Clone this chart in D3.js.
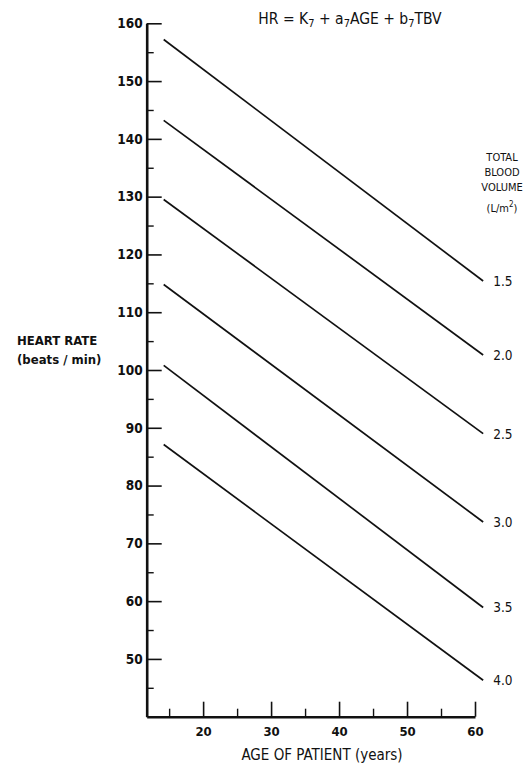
<!DOCTYPE html>
<html>
<head>
<meta charset="utf-8">
<script src="https://cdn.jsdelivr.net/npm/d3@7"></script>
<style>
  html, body { margin: 0; padding: 0; background: #fff; }
  svg { display: block; }
  text { font-family: "Liberation Sans Narrow", "DejaVu Sans Condensed", "Arial Narrow", sans-serif; fill: #111; }
</style>
</head>
<body>
<svg id="chart" width="527" height="765"></svg>
<script>
// ---- data ----
const ageRange = [14.2, 61.2];                       // ages where each line starts / ends
const tbvLabels = ["1.5", "2.0", "2.5", "3.0", "3.5", "4.0"];
const hrAtStart = [157.2, 143.2, 129.5, 114.8, 100.8, 87.1];
const hrAtEnd   = [115.4, 102.6, 89.0, 73.7, 58.9, 46.3];
const xMajorTicks = [20, 30, 40, 50, 60];
const xMinorTicks = [15, 25, 35, 45, 55];
const yMajorTicks = [50, 60, 70, 80, 90, 100, 110, 120, 130, 140, 150, 160];
const yMinorTicks = [45, 55, 65, 75, 85, 95, 105, 115, 125, 135, 145, 155];
const legendTitle = ["TOTAL", "BLOOD", "VOLUME"];

const svg = d3.select("#chart");
const x = d3.scaleLinear().domain([11.7, 60]).range([146.7, 475]);
const y = d3.scaleLinear().domain([40, 160]).range([716.7, 23.3]);

const baseY = y(40), baseX = x(11.7);

// X axis
const gx = svg.append("g").attr("transform", `translate(0,${baseY})`)
  .call(d3.axisBottom(x).tickValues(xMajorTicks).tickSize(-15).tickSizeOuter(0).tickPadding(10));
gx.select(".domain").attr("stroke-width", 2.6).attr("stroke", "#111");
gx.selectAll(".tick line").attr("stroke-width", 1.6).attr("stroke", "#111");
gx.selectAll(".tick text").attr("font-size", 13).attr("font-weight", "bold");
const gxm = svg.append("g").attr("transform", `translate(0,${baseY})`)
  .call(d3.axisBottom(x).tickValues(xMinorTicks).tickSize(-8).tickSizeOuter(0).tickFormat(""));
gxm.select(".domain").remove();
gxm.selectAll(".tick line").attr("stroke-width", 1.4).attr("stroke", "#111");

// Y axis
const gy = svg.append("g").attr("transform", `translate(${baseX},0)`)
  .call(d3.axisLeft(y).tickValues(yMajorTicks).tickSize(-15).tickSizeOuter(0).tickPadding(4));
gy.select(".domain").attr("stroke-width", 2.6).attr("stroke", "#111");
gy.selectAll(".tick line").attr("stroke-width", 1.6).attr("stroke", "#111");
gy.selectAll(".tick text").attr("font-size", 13.5).attr("font-weight", "bold");
const gym = svg.append("g").attr("transform", `translate(${baseX},0)`)
  .call(d3.axisLeft(y).tickValues(yMinorTicks).tickSize(-7).tickSizeOuter(0).tickFormat(""));
gym.select(".domain").remove();
gym.selectAll(".tick line").attr("stroke-width", 1.4).attr("stroke", "#111");

// Lines
const lineData = tbvLabels.map((t, i) => ({
  label: t,
  pts: [[ageRange[0], hrAtStart[i]], [ageRange[1], hrAtEnd[i]]]
}));
const line = d3.line().x(d => x(d[0])).y(d => y(d[1]));
svg.append("g").selectAll("path").data(lineData).join("path")
  .attr("d", d => line(d.pts))
  .attr("fill", "none").attr("stroke", "#111").attr("stroke-width", 1.7);

svg.append("g").selectAll("text").data(lineData).join("text")
  .attr("x", d => x(d.pts[1][0]) + 10)
  .attr("y", d => y(d.pts[1][1]) + 5)
  .attr("font-size", 13.5)
  .text(d => d.label);

// Legend title
const lg = svg.append("g").attr("text-anchor", "middle").attr("font-size", 11);
legendTitle.forEach((t, i) => {
  lg.append("text").attr("x", 502).attr("y", 161 + i * 15).text(t);
});
const unit = lg.append("text").attr("x", 502).attr("y", 212);
unit.append("tspan").text("(L/m");
unit.append("tspan").attr("dy", -5).attr("font-size", 8).text("2");
unit.append("tspan").attr("dy", 5).text(")");

// Formula title
const ft = svg.append("text").attr("x", 350).attr("y", 24).attr("text-anchor", "middle").attr("font-size", 15.5);
ft.append("tspan").text("HR = K");
ft.append("tspan").attr("dy", 3).attr("font-size", 11).text("7");
ft.append("tspan").attr("dy", -3).text(" + a");
ft.append("tspan").attr("dy", 3).attr("font-size", 11).text("7");
ft.append("tspan").attr("dy", -3).text("AGE + b");
ft.append("tspan").attr("dy", 3).attr("font-size", 11).text("7");
ft.append("tspan").attr("dy", -3).text("TBV");

// Axis titles
svg.append("text").attr("x", 322).attr("y", 760).attr("text-anchor", "middle")
  .attr("font-size", 15).text("AGE OF PATIENT (years)");
svg.append("text").attr("x", 17).attr("y", 345).attr("font-size", 13).attr("font-weight", "bold").text("HEART RATE");
svg.append("text").attr("x", 17).attr("y", 364).attr("font-size", 13).attr("font-weight", "bold").text("(beats / min)");
</script>
</body>
</html>
